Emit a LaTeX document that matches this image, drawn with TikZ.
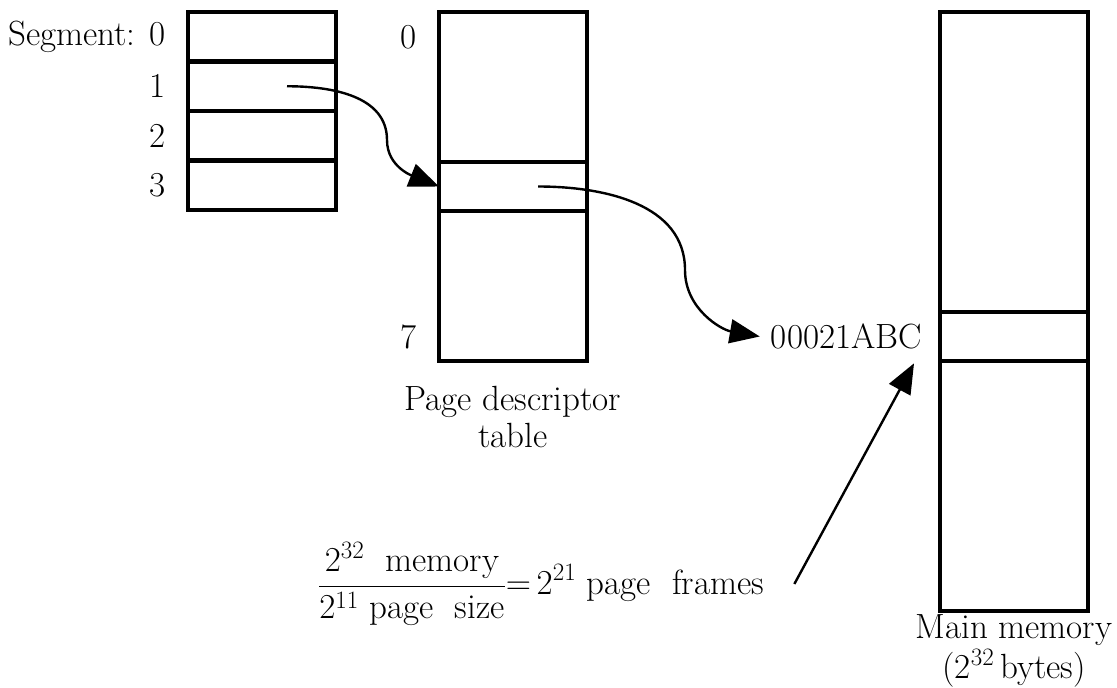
\documentclass[tikz,border=0pt]{standalone}
\usepackage{fix-cm}
\usepackage{fontspec}
\usetikzlibrary{positioning,arrows.meta}
\newcommand{\expo}[1]{\mbox{\fontsize{25}{25}\selectfont #1}}
\tikzset{
	cell/.style={draw, line width=4.4pt, minimum width=148pt, inner sep=0pt, outer sep=0pt},
	lbl/.style={font=\fontsize{35}{37}\selectfont, inner sep=0pt},
	ptr/.style={line width=2.4pt, -{Triangle[length=30pt,width=24pt]}},
}

\begin{document}
\begin{tikzpicture}[x=1pt, y=-1pt]
			\useasboundingbox (0,0) rectangle (1117,688);
			% segment table
			\node [cell, minimum height=49.5pt, anchor=north west] (s0) at (188,12) {};
			\node [cell, minimum height=49.5pt, below=0pt of s0] (s1) {};
			\node [cell, minimum height=49.5pt, below=0pt of s1] (s2) {};
			\node [cell, minimum height=49.5pt, below=0pt of s2] (s3) {};
			\node [lbl, left=22pt of s0] {Segment: 0};
			\node [lbl, left=22pt of s1] {1};
			\node [lbl, left=22pt of s2] {2};
			\node [lbl, left=22pt of s3] {3};
			% page descriptor table
			\node [cell, minimum height=150pt, anchor=north west] (p0) at (439,12) {};
			\node [cell, minimum height=49pt, below=0pt of p0] (p1) {};
			\node [cell, minimum height=150pt, below=0pt of p1] (p2) {};
			\node [lbl, left=22pt of p0.north west, yshift=-25pt] {0};
			\node [lbl, left=22pt of p2.south west, yshift=24pt] {7};
			\node [lbl, align=center, below=25pt of p2] {Page descriptor\\table};
			% main memory
			\node [cell, minimum height=300pt, anchor=north west] (m0) at (940,12) {};
			\node [cell, minimum height=49pt, below=0pt of m0] (m1) {};
			\node [cell, minimum height=250pt, below=0pt of m1] (m2) {};
			\node [lbl, left=18pt of m1] (addr) {00021ABC};
			\node [lbl, font=\fontsize{35}{40}\selectfont, align=center, below=3pt of m2] {Main memory\\(2$^{\expo{32}}$\,bytes)};
			\node [lbl, anchor=west] (ratio) at (318,584) {$\displaystyle\frac{2^{\expo{32}}\ \ \mbox{memory}}{2^{\expo{11}}\ \mbox{page\ \ size}}{=}\,2^{\expo{21}}$\ page\ \ frames};
			% pointers
			\coordinate (b1) at (387,140);
			\coordinate (b2) at (685,270);
			\draw [ptr] ([xshift=25pt]s1.center) to[out=0,in=90] (b1) to[out=-90,in=158] (p1.west);
			\draw [ptr] ([xshift=25pt]p1.center) to[out=0,in=90] (b2) to[out=-90,in=170] ([xshift=-11pt]addr.west);
			\draw [ptr] ([xshift=30pt]ratio.east) -- ([xshift=-8pt,yshift=-14pt]addr.south east);
\end{tikzpicture}
\end{document}
